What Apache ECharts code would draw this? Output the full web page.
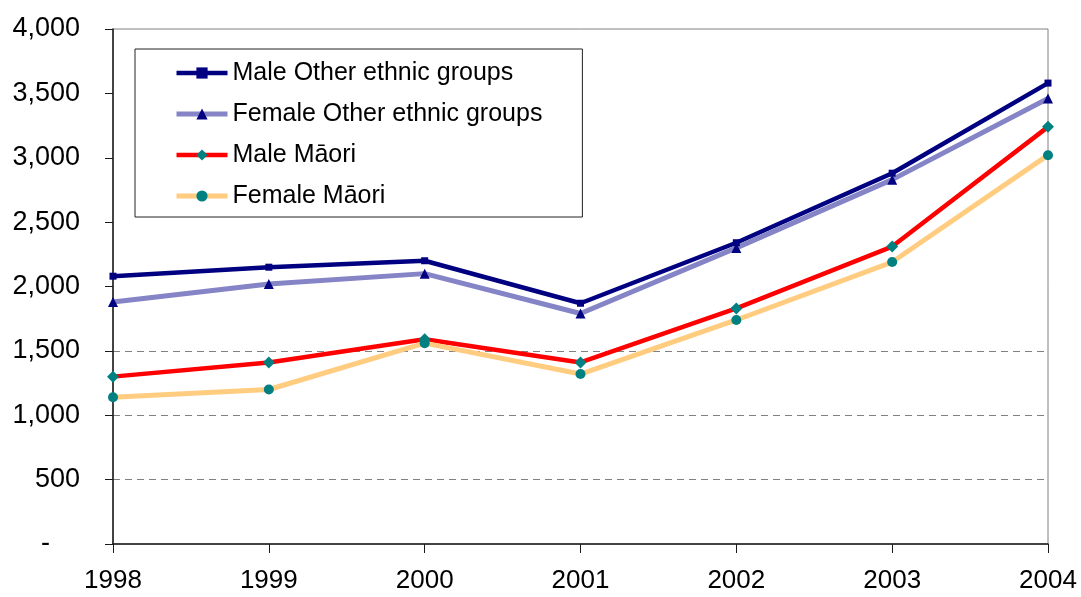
<!DOCTYPE html>
<html>
<head>
<meta charset="utf-8">
<style>
  html, body { margin: 0; padding: 0; background: #fff; }
  #chart { width: 1081px; height: 597px; }
</style>
<script src="https://cdn.jsdelivr.net/npm/echarts@6/dist/echarts.min.js"></script>
</head>
<body>
<div id="chart"></div>
<script>
// Years on the category axis
const years = ['1998', '1999', '2000', '2001', '2002', '2003', '2004'];

// Series values by year
const maleOther    = [2080, 2150, 2200, 1870, 2340, 2880, 3580];
const femaleOther  = [1880, 2020, 2100, 1790, 2300, 2830, 3460];
const maleMaori    = [1300, 1410, 1590, 1410, 1830, 2310, 3240];
const femaleMaori  = [1140, 1200, 1560, 1320, 1740, 2190, 3020];

// Series names shown in the legend
const seriesNames = [
  'Male Other ethnic groups',
  'Female Other ethnic groups',
  'Male M\u0101ori',
  'Female M\u0101ori'
];

const FONT = '"Liberation Sans", Arial, sans-serif';
const GRID_LINE = '#808080';
const NONE = 'rgba(0,0,0,0)';

function makeSeries(name, data, lineColor, lineWidth, symbol, symbolSize, markerColor) {
  return {
    name: name,
    type: 'line',
    data: data,
    symbol: symbol,
    symbolSize: symbolSize,
    showSymbol: true,
    lineStyle: { color: lineColor, width: lineWidth },
    itemStyle: { color: markerColor, borderWidth: 0 },
    emphasis: { disabled: true }
  };
}

const chart = echarts.init(document.getElementById('chart'), null, { renderer: 'canvas' });

chart.setOption({
  animation: false,
  backgroundColor: '#ffffff',
  textStyle: { fontFamily: FONT },
  grid: {
    left: 113, right: 33, top: 29, bottom: 53,
    show: true,
    borderColor: GRID_LINE,
    borderWidth: 1,
    backgroundColor: 'transparent'
  },
  legend: {
    orient: 'vertical',
    left: 135,
    top: 49,
    padding: [11, 40, 8, 39],
    itemGap: 15,
    itemWidth: 51,
    itemHeight: 14,
    backgroundColor: '#ffffff',
    borderColor: '#222222',
    borderWidth: 1,
    borderRadius: 0,
    selectedMode: false,
    data: seriesNames,
    lineStyle: { width: 'inherit' },
    textStyle: { fontFamily: FONT, fontSize: 25, color: '#000', lineHeight: 26 }
  },
  xAxis: {
    type: 'category',
    data: years,
    boundaryGap: false,
    axisLine: { show: true, lineStyle: { color: '#1a1a1a', width: 1.5 } },
    axisTick: { show: true, alignWithLabel: true, length: 9, lineStyle: { color: '#1a1a1a' } },
    axisLabel: { margin: 24, fontFamily: FONT, fontSize: 26, color: '#000' },
    splitLine: { show: false }
  },
  yAxis: {
    type: 'value',
    min: 0,
    max: 4000,
    interval: 500,
    axisLine: { show: true, lineStyle: { color: '#1a1a1a', width: 1.5 } },
    axisTick: { show: true, length: 8, lineStyle: { color: '#1a1a1a' } },
    axisLabel: {
      margin: 33,
      fontFamily: FONT,
      fontSize: 27,
      color: '#000',
      formatter: function (v) {
        return v === 0 ? '{dash|-}' : v.toLocaleString('en-US');
      },
      rich: {
        dash: { fontFamily: FONT, fontSize: 27, color: '#000', padding: [0, 30, 0, 0] }
      }
    },
    splitLine: {
      show: true,
      lineStyle: {
        type: [7, 5],
        width: 1,
        color: [NONE, GRID_LINE, GRID_LINE, GRID_LINE, NONE, NONE, NONE, NONE, NONE]
      }
    }
  },
  series: [
    makeSeries(seriesNames[0], maleOther,   '#000080', 4.5, 'rect',     7,  '#000080'),
    makeSeries(seriesNames[1], femaleOther, '#8484C6', 5,   'triangle', 10, '#000080'),
    makeSeries(seriesNames[2], maleMaori,   '#FF0000', 4.5, 'diamond',  12, '#008080'),
    makeSeries(seriesNames[3], femaleMaori, '#FFCC80', 5,   'circle',   10, '#008080')
  ]
});
</script>
</body>
</html>
